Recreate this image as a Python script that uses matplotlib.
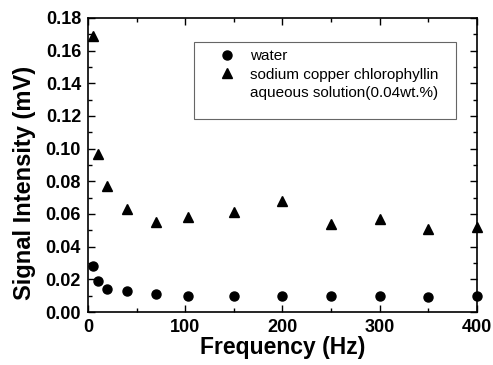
import numpy as np
import matplotlib.pyplot as plt
from matplotlib.patches import Rectangle
from matplotlib.lines import Line2D

freq = [5, 10, 20, 40, 70, 103, 150, 200, 250, 300, 350, 400]
water = [0.028, 0.019, 0.014, 0.013, 0.011, 0.010, 0.0098, 0.0095, 0.0098, 0.0097, 0.0090, 0.0095]
chloro = [0.169, 0.097, 0.077, 0.063, 0.055, 0.058, 0.061, 0.068, 0.054, 0.057, 0.051, 0.052]

plt.rcParams['font.family'] = ['Liberation Sans', 'DejaVu Sans']

fig = plt.figure(figsize=(4.93, 3.65), dpi=100)
ax = fig.add_axes([0.1785, 0.1452, 0.789, 0.8055])

h1, = ax.plot(freq, water, 'o', color='black', markersize=6.5, clip_on=False)
h2, = ax.plot(freq, chloro, '^', color='black', markersize=7.5, clip_on=False)

ax.set_xlim(0, 400)
ax.set_ylim(0, 0.18)
ax.set_xticks(np.arange(0, 401, 100))
ax.set_xticks(np.arange(0, 401, 50), minor=True)
ax.set_yticks(np.arange(0, 0.181, 0.02))
ax.set_yticks(np.arange(0, 0.181, 0.01), minor=True)
ax.set_yticklabels([f"{v:.2f}" for v in np.arange(0, 0.181, 0.02)])
ax.tick_params(which='both', direction='in', top=True, right=True, labelsize=13, width=1)
ax.tick_params(which='major', length=5, pad=5)
ax.tick_params(which='minor', length=3)
for lab in ax.get_xticklabels() + ax.get_yticklabels():
    lab.set_fontweight('bold')
for s in ax.spines.values():
    s.set_linewidth(1.2)

ax.set_xlabel("Frequency (Hz)", fontsize=16.5, fontweight='bold', labelpad=0)
ax.set_ylabel("Signal Intensity (mV)", fontsize=17, fontweight='bold')
ax.yaxis.set_label_coords(-0.134, 0.439)

# legend box drawn separately (it has extra room at the bottom)
ax.add_patch(Rectangle((0.273, 0.656), 0.673, 0.262, transform=ax.transAxes,
                       fill=False, edgecolor='#666666', linewidth=0.8, zorder=5))
blank = Line2D([], [], linestyle='none', marker='none')
leg = ax.legend([h1, h2, blank],
                ['water', 'sodium copper chlorophyllin', 'aqueous solution(0.04wt.%)'],
                loc='upper left', bbox_to_anchor=(0.315, 0.92), frameon=False,
                fontsize=11, borderpad=0, handletextpad=0.9,
                labelspacing=0.3, handlelength=1.2)

plt.savefig("out.png", dpi=100)
